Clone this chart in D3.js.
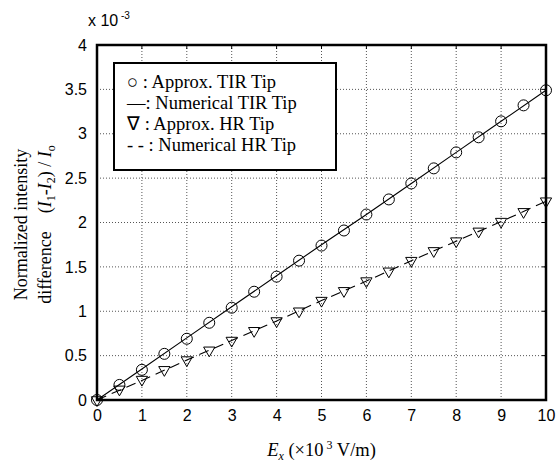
<!DOCTYPE html>
<html>
<head>
<meta charset="utf-8">
<script src="https://cdn.jsdelivr.net/npm/d3@7"></script>
<style>
  body { margin: 0; background: #fff; }
  text { fill: #000; }
</style>
</head>
<body>
<div id="chart-area"></div>
<script>
// SVG size
let width = 558,
	height = 466;

// plot box in pixels
let margin = {left: 97, right: 12, top: 45, bottom: 66};

// data (values in units of 1e-3)
let approxX = [0, 0.5, 1, 1.5, 2, 2.5, 3, 3.5, 4, 4.5, 5, 5.5, 6, 6.5, 7, 7.5, 8, 8.5, 9, 9.5, 10];
let approxTIR = [0, 0.17, 0.34, 0.52, 0.69, 0.87, 1.04, 1.22, 1.39, 1.57, 1.74, 1.91, 2.09, 2.26, 2.44, 2.61, 2.79, 2.96, 3.14, 3.32, 3.49];
let approxHR = [0, 0.12, 0.23, 0.34, 0.45, 0.56, 0.67, 0.78, 0.89, 1.00, 1.12, 1.23, 1.34, 1.45, 1.57, 1.68, 1.79, 1.90, 2.01, 2.12, 2.24];

let numX = [0, 1, 2, 3, 4, 5, 6, 7, 8, 9, 10];
let numTIR = [0, 0.35, 0.70, 1.05, 1.40, 1.75, 2.09, 2.44, 2.79, 3.14, 3.49];
let numHR = [0, 0.22, 0.45, 0.67, 0.89, 1.12, 1.34, 1.57, 1.79, 2.01, 2.24];

let xTicks = [0, 1, 2, 3, 4, 5, 6, 7, 8, 9, 10];
let yTicks = [0, 0.5, 1, 1.5, 2, 2.5, 3, 3.5, 4];

let legendSymbols = ["\u25CB :", "\u2014:", "\u2207 :", "- - :"];
let legendLabels = ["Approx. TIR Tip", "Numerical TIR Tip", "Approx. HR Tip", "Numerical HR Tip"];

drawChart();

function drawChart() {
	let svg = d3.select("#chart-area")
		.append("svg")
		.attr("width", width)
		.attr("height", height);

	let x = d3.scaleLinear()
		.domain([0, 10])
		.range([margin.left, width - margin.right]);

	let y = d3.scaleLinear()
		.domain([0, 4])
		.range([height - margin.bottom, margin.top]);

	let sans = "'Liberation Sans', Arial, sans-serif";
	let serif = "'Liberation Serif', 'Times New Roman', serif";

	// dotted grid
	svg.append("g")
		.selectAll("line")
		.data(xTicks.slice(1, -1))
		.enter()
		.append("line")
		.attr("x1", d => x(d)).attr("x2", d => x(d))
		.attr("y1", y(0)).attr("y2", y(4))
		.attr("stroke", "#555")
		.attr("stroke-width", 1)
		.attr("stroke-dasharray", "1,2");

	svg.append("g")
		.selectAll("line")
		.data(yTicks.slice(1, -1))
		.enter()
		.append("line")
		.attr("y1", d => y(d)).attr("y2", d => y(d))
		.attr("x1", x(0)).attr("x2", x(10))
		.attr("stroke", "#555")
		.attr("stroke-width", 1)
		.attr("stroke-dasharray", "1,2");

	// axes (tick labels)
	let xAxis = d3.axisBottom(x).tickValues(xTicks).tickSize(0).tickPadding(10);
	let yAxis = d3.axisLeft(y).tickValues(yTicks).tickSize(0).tickPadding(10)
		.tickFormat(d3.format("~g"));

	let gx = svg.append("g")
		.attr("transform", "translate(0," + y(0) + ")")
		.call(xAxis);
	let gy = svg.append("g")
		.attr("transform", "translate(" + x(0) + ",0)")
		.call(yAxis);

	[gx, gy].forEach(g => {
		g.select(".domain").remove();
		g.selectAll("text")
			.attr("font-family", sans)
			.attr("font-size", 16)
			.attr("fill", "#000");
	});

	// inward ticks on top and right
	svg.append("g").selectAll("line")
		.data(xTicks)
		.enter().append("line")
		.attr("x1", d => x(d)).attr("x2", d => x(d))
		.attr("y1", y(4)).attr("y2", y(4) + 4)
		.attr("stroke", "#000");
	svg.append("g").selectAll("line")
		.data(yTicks)
		.enter().append("line")
		.attr("y1", d => y(d)).attr("y2", d => y(d))
		.attr("x1", x(10)).attr("x2", x(10) - 4)
		.attr("stroke", "#000");

	// lines
	let line = d3.line()
		.x(d => x(d[0]))
		.y(d => y(d[1]));

	svg.append("path")
		.datum(numX.map((d, i) => [d, numTIR[i]]))
		.attr("d", line)
		.attr("fill", "none")
		.attr("stroke", "#000")
		.attr("stroke-width", 1.1);

	svg.append("path")
		.datum(numX.map((d, i) => [d, numHR[i]]))
		.attr("d", line)
		.attr("fill", "none")
		.attr("stroke", "#000")
		.attr("stroke-width", 1.1)
		.attr("stroke-dasharray", "10,6");

	// markers
	svg.append("g")
		.selectAll("circle")
		.data(approxX.map((d, i) => [d, approxTIR[i]]))
		.enter()
		.append("circle")
		.attr("cx", d => x(d[0]))
		.attr("cy", d => y(d[1]))
		.attr("r", 5.5)
		.attr("fill", "none")
		.attr("stroke", "#000")
		.attr("stroke-width", 1);

	let tri = d3.symbol().type(d3.symbolTriangle).size(55);
	svg.append("g")
		.selectAll("path")
		.data(approxX.map((d, i) => [d, approxHR[i]]))
		.enter()
		.append("path")
		.attr("d", tri)
		.attr("transform", d => "translate(" + x(d[0]) + "," + y(d[1]) + ") rotate(180)")
		.attr("fill", "none")
		.attr("stroke", "#000")
		.attr("stroke-width", 1);

	// frame
	svg.append("rect")
		.attr("x", x(0)).attr("y", y(4))
		.attr("width", x(10) - x(0))
		.attr("height", y(0) - y(4))
		.attr("fill", "none")
		.attr("stroke", "#000")
		.attr("stroke-width", 2.5);

	// exponent label
	let expo = svg.append("text")
		.attr("x", 88).attr("y", 26)
		.attr("font-family", sans)
		.attr("font-size", 16);
	expo.append("tspan").text("x 10");
	expo.append("tspan").attr("dy", -7).attr("font-size", 10).text(" -3");

	// legend
	let lg = svg.append("g");
	lg.append("rect")
		.attr("x", 114).attr("y", 63)
		.attr("width", 222).attr("height", 107)
		.attr("fill", "#fff")
		.attr("stroke", "#000")
		.attr("stroke-width", 2);

	let rowY = [82, 103, 124, 145];
	legendLabels.forEach((lab, i) => {
		lg.append("text")
			.attr("x", 127).attr("y", rowY[i] + 6)
			.attr("font-family", serif)
			.attr("font-size", 18.5)
			.text(legendSymbols[i] + " " + lab);
	});

	// x title
	let xt = svg.append("text")
		.attr("x", (x(0) + x(10)) / 2)
		.attr("y", 456)
		.attr("text-anchor", "middle")
		.attr("font-family", serif)
		.attr("font-size", 18.5);
	xt.append("tspan").attr("font-style", "italic").text("E");
	xt.append("tspan").attr("font-style", "italic").attr("font-size", 12).attr("dy", 4).text("x");
	xt.append("tspan").attr("dy", -4).text(" (\u00D710");
	xt.append("tspan").attr("font-size", 12).attr("dy", -7).text(" 3");
	xt.append("tspan").attr("dy", 7).text(" V/m)");

	// y title
	let cy = (y(0) + y(4)) / 2 + 2;
	svg.append("text")
		.attr("transform", "translate(27," + cy + ") rotate(-90)")
		.attr("text-anchor", "middle")
		.attr("font-family", serif)
		.attr("font-size", 18)
		.text("Normalized intensity");

	let yt = svg.append("text")
		.attr("transform", "translate(51," + cy + ") rotate(-90)")
		.attr("text-anchor", "middle")
		.attr("font-family", serif)
		.attr("font-size", 18);
	yt.append("tspan").text("difference\u00A0\u00A0\u00A0\u00A0(");
	yt.append("tspan").attr("font-style", "italic").text("I");
	yt.append("tspan").attr("font-size", 12).attr("dy", 4).text("1");
	yt.append("tspan").attr("dy", -4).text("-");
	yt.append("tspan").attr("font-style", "italic").text("I");
	yt.append("tspan").attr("font-size", 12).attr("dy", 4).text("2");
	yt.append("tspan").attr("dy", -4).text(") / ");
	yt.append("tspan").attr("font-style", "italic").text("I");
	yt.append("tspan").attr("font-size", 12).attr("dy", 4).text("o");
}
</script>
</body>
</html>
